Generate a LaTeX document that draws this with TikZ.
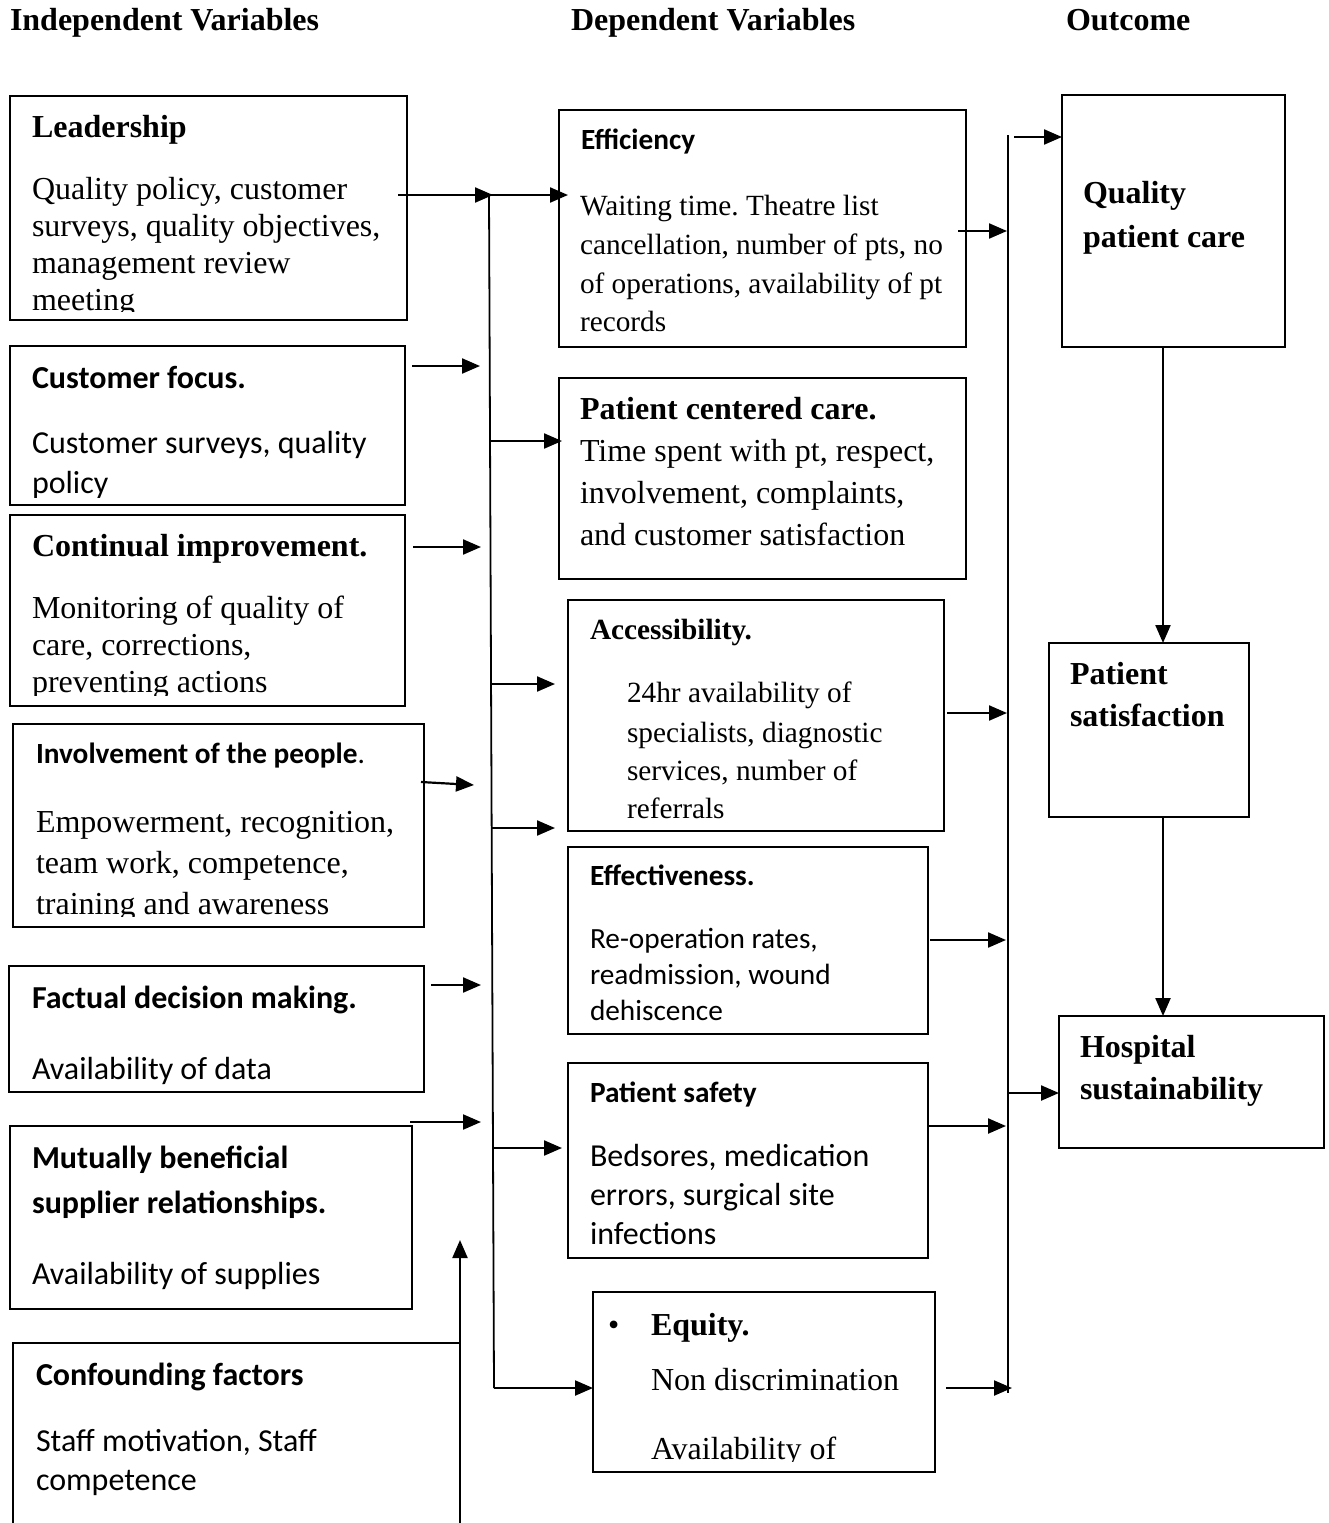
\documentclass[tikz,border=0pt]{standalone}
\usepackage{fontspec}
\setmainfont{Liberation Serif}
\newfontfamily\calfont{Carlito}
\usetikzlibrary{arrows.meta}
\newcommand\szA{\fontsize{32}{38}\selectfont}
\newcommand\szB{\fontsize{29.3}{35}\selectfont}
\frenchspacing
\begin{document}
\begin{tikzpicture}[x=1pt,y=-1pt,
  box/.style={draw, line width=1.6pt, rectangle, inner sep=0pt, outer sep=0pt, anchor=north west},
  tx/.style={anchor=base west, inner sep=0pt, outer sep=0pt},
  arr/.style={line width=2.2pt, -{Triangle[length=18pt,width=15pt]}},
  bus/.style={line width=1.8pt},
]
\useasboundingbox (0,0) rectangle (1329,1523);
% headers
\node[tx] (h1) at (10,30) {\szA\bfseries Independent Variables};
\node[tx] (h2) at (571,30) {\szA\bfseries Dependent Variables};
\node[tx] (h3) at (1066,30) {\szA\bfseries Outcome};
% left boxes
\node[box, minimum width=397pt, minimum height=224pt] (lead) at (10,96) {};
\node[box, minimum width=395pt, minimum height=159pt] (cust) at (10,346) {};
\node[box, minimum width=395pt, minimum height=191pt] (cont) at (10,515) {};
\node[box, minimum width=411pt, minimum height=203pt] (invo) at (13,724) {};
\node[box, minimum width=415pt, minimum height=126pt] (fact) at (9,966) {};
\node[box, minimum width=402pt, minimum height=183pt] (mutu) at (10,1126) {};
\node[rectangle, inner sep=0pt, outer sep=0pt, anchor=north west, minimum width=447pt, minimum height=200pt] (conf) at (13,1343) {};
\draw[line width=1.6pt] (conf.south west) -- (conf.north west) -- (conf.north east);
% middle boxes
\node[box, minimum width=407pt, minimum height=237pt] (effi) at (559,110) {};
\node[box, minimum width=407pt, minimum height=201pt] (pcc) at (559,378) {};
\node[box, minimum width=376pt, minimum height=231pt] (acce) at (568,600) {};
\node[box, minimum width=360pt, minimum height=187pt] (effe) at (568,847) {};
\node[box, minimum width=360pt, minimum height=195pt] (safe) at (568,1063) {};
\node[box, minimum width=342pt, minimum height=180pt] (equi) at (593,1292) {};
% right boxes
\node[box, minimum width=223pt, minimum height=252pt] (qpc) at (1062,95) {};
\node[box, minimum width=200pt, minimum height=174pt] (psat) at (1049,643) {};
\node[box, minimum width=265pt, minimum height=132pt] (hosp) at (1059,1016) {};

% texts: Leadership
\node[tx] (leadT) at (32,137) {\szA\bfseries Leadership};
\begin{scope}
\clip (12,98) rectangle (405,311);
\node[tx] (lead1) at (32,199) {\szA Quality policy, customer};
\node[tx] (lead2) at (32,236) {\szA surveys, quality objectives,};
\node[tx] (lead3) at (32,273) {\szA management review};
\node[tx] (lead4) at (32,310) {\szA meeting};
\end{scope}
% Customer focus
\node[tx] (custT) at (32,388) {\szA\calfont\bfseries Customer focus.};
\begin{scope}
\clip (12,348) rectangle (403,497);
\node[tx] (cust1) at (32,453) {\szA\calfont Customer surveys, quality};
\node[tx] (cust2) at (32,493) {\szA\calfont policy};
\end{scope}
% Continual improvement
\node[tx] (contT) at (32,556) {\szA\bfseries Continual improvement.};
\begin{scope}
\clip (12,517) rectangle (403,695);
\node[tx] (cont1) at (32,618) {\szA Monitoring of quality of};
\node[tx] (cont2) at (32,655) {\szA care, corrections,};
\node[tx] (cont3) at (32,692) {\szA preventing actions};
\end{scope}
% Involvement
\node[tx] (invoT) at (36,763) {\szB\calfont{\bfseries Involvement of the people}.};
\begin{scope}
\clip (15,726) rectangle (422,916);
\node[tx] (invo1) at (36,832) {\szA Empowerment, recognition,};
\node[tx] (invo2) at (36,873) {\szA team work, competence,};
\node[tx] (invo3) at (36,914) {\szA training and awareness};
\end{scope}
% Factual
\node[tx] (factT) at (32,1008) {\szA\calfont\bfseries Factual decision making.};
\node[tx] (fact1) at (32,1079) {\szA\calfont Availability of data};
% Mutually
\node[tx] (mutuT1) at (32,1168) {\szA\calfont\bfseries Mutually beneficial};
\node[tx] (mutuT2) at (32,1213) {\szA\calfont\bfseries supplier relationships.};
\node[tx] (mutu1) at (32,1284) {\szA\calfont Availability of supplies};
% Confounding
\node[tx] (confT) at (36,1385) {\szA\calfont\bfseries Confounding factors};
\node[tx] (conf1) at (36,1451) {\szA\calfont Staff motivation, Staff};
\node[tx] (conf2) at (36,1490) {\szA\calfont competence};
% Efficiency
\node[tx] (effiT) at (581,149) {\szB\calfont\bfseries Efficiency};
\node[tx] (effi1) at (580,215) {\szB Waiting time. Theatre list};
\node[tx] (effi2) at (580,254) {\szB cancellation, number of pts, no};
\node[tx] (effi3) at (580,293) {\szB of operations, availability of pt};
\node[tx] (effi4) at (580,331) {\szB records};
% Patient centered care
\node[tx] (pccT) at (580,419) {\szA\bfseries Patient centered care.};
\node[tx] (pcc1) at (580,461) {\szA Time spent with pt, respect,};
\node[tx] (pcc2) at (580,503) {\szA involvement, complaints,};
\node[tx] (pcc3) at (580,545) {\szA and customer satisfaction};
% Accessibility
\node[tx] (acceT) at (590,639) {\szB\bfseries Accessibility.};
\node[tx] (acce1) at (627,702) {\szB 24hr availability of};
\node[tx] (acce2) at (627,742) {\szB specialists, diagnostic};
\node[tx] (acce3) at (627,780) {\szB services, number of};
\node[tx] (acce4) at (627,818) {\szB referrals};
% Effectiveness
\node[tx] (effeT) at (590,885) {\szB\calfont\bfseries Effectiveness.};
\node[tx] (effe1) at (590,948) {\szB\calfont Re-operation rates,};
\node[tx] (effe2) at (590,984) {\szB\calfont readmission, wound};
\node[tx] (effe3) at (590,1020) {\szB\calfont dehiscence};
% Patient safety
\node[tx] (safeT) at (590,1102) {\szB\calfont\bfseries Patient safety};
\node[tx] (safe1) at (590,1166) {\szA\calfont Bedsores, medication};
\node[tx] (safe2) at (590,1205) {\szA\calfont errors, surgical site};
\node[tx] (safe3) at (590,1244) {\szA\calfont infections};
% Equity
\node[tx] (equiB) at (608,1335) {\szA •};
\node[tx] (equiT) at (651,1335) {\szA\bfseries Equity.};
\node[tx] (equi1) at (651,1390) {\szA Non discrimination};
\begin{scope}
\clip (595,1294) rectangle (933,1461);
\node[tx] (equi2) at (651,1459) {\szA Availability of};
\end{scope}
% Outcomes
\node[tx] (qpcT1) at (1083,203) {\szA\bfseries Quality};
\node[tx] (qpcT2) at (1083,247) {\szA\bfseries patient care};
\node[tx] (psatT1) at (1070,684) {\szA\bfseries Patient};
\node[tx] (psatT2) at (1070,726) {\szA\bfseries satisfaction};
\node[tx] (hospT1) at (1080,1057) {\szA\bfseries Hospital};
\node[tx] (hospT2) at (1080,1099) {\szA\bfseries sustainability};

% left bus
\coordinate (lbTop) at (489,195);
\coordinate (lbBot) at (494,1388);
\coordinate (lb2) at (490,441);
\coordinate (lb3) at (491,684);
\coordinate (lb4) at (491.5,828);
\coordinate (lb5) at (493,1148);
\draw[bus] (lbTop) -- (lbBot);
\draw[arr] ([xshift=-9pt]lead.east |- lbTop) -- ([xshift=4pt]lbTop);
\draw[arr] (lbTop) -- ([xshift=9pt]lbTop -| effi.west);
\draw[arr] (lb2) -- ([xshift=3pt]lb2 -| pcc.west);
\draw[arr] (lb3) -- ([xshift=-13pt]lb3 -| acce.west);
\draw[arr] (lb4) -- ([xshift=-13pt]lb4 -| acce.west);
\draw[arr] (lb5) -- ([xshift=-6pt]lb5 -| safe.west);
\draw[arr] (lbBot) -- (lbBot -| equi.west);
% free arrows from left boxes
\coordinate (c1) at (480,366);
\coordinate (c2) at (481,547);
\coordinate (c3s) at (421,782);
\coordinate (c3) at (474,785);
\coordinate (c4) at (481,985);
\coordinate (c5) at (481,1122);
\coordinate (c6) at (460,1240);
\draw[arr] ([xshift=7pt]cust.east |- c1) -- (c1);
\draw[arr] ([xshift=8pt]cont.east |- c2) -- (c2);
\draw[arr] (c3s) -- (c3);
\draw[arr] ([xshift=7pt]fact.east |- c4) -- (c4);
\draw[arr] ([xshift=-2pt]mutu.east |- c5) -- (c5);
\draw[arr] (conf.south east) -- (c6);
% right bus
\coordinate (rbTop) at (1008,135);
\coordinate (rbBot) at (1008,1393);
\draw[bus] (rbTop) -- (rbBot);
\coordinate (r0) at (1014,137);
\coordinate (r1) at (1007,231);
\coordinate (r2) at (1007,713);
\coordinate (r3) at (1006,940);
\coordinate (r4) at (1006,1126);
\coordinate (r5) at (1012,1388);
\coordinate (r6) at (1008,1093);
\draw[arr] (r0) -- (r0 -| qpc.west);
\draw[arr] ([xshift=-8pt]effi.east |- r1) -- (r1);
\draw[arr] ([xshift=3pt]acce.east |- r2) -- (r2);
\draw[arr] ([xshift=2pt]effe.east |- r3) -- (r3);
\draw[arr] (safe.east |- r4) -- (r4);
\draw[arr] ([xshift=11pt]equi.east |- r5) -- (r5);
\draw[arr] (r6) -- (r6 -| hosp.west);
% outcome chain
\coordinate (vx) at (1163,0);
\draw[arr] (qpc.south -| vx) -- (psat.north -| vx);
\draw[arr] (psat.south -| vx) -- (hosp.north -| vx);
\end{tikzpicture}
\end{document}
